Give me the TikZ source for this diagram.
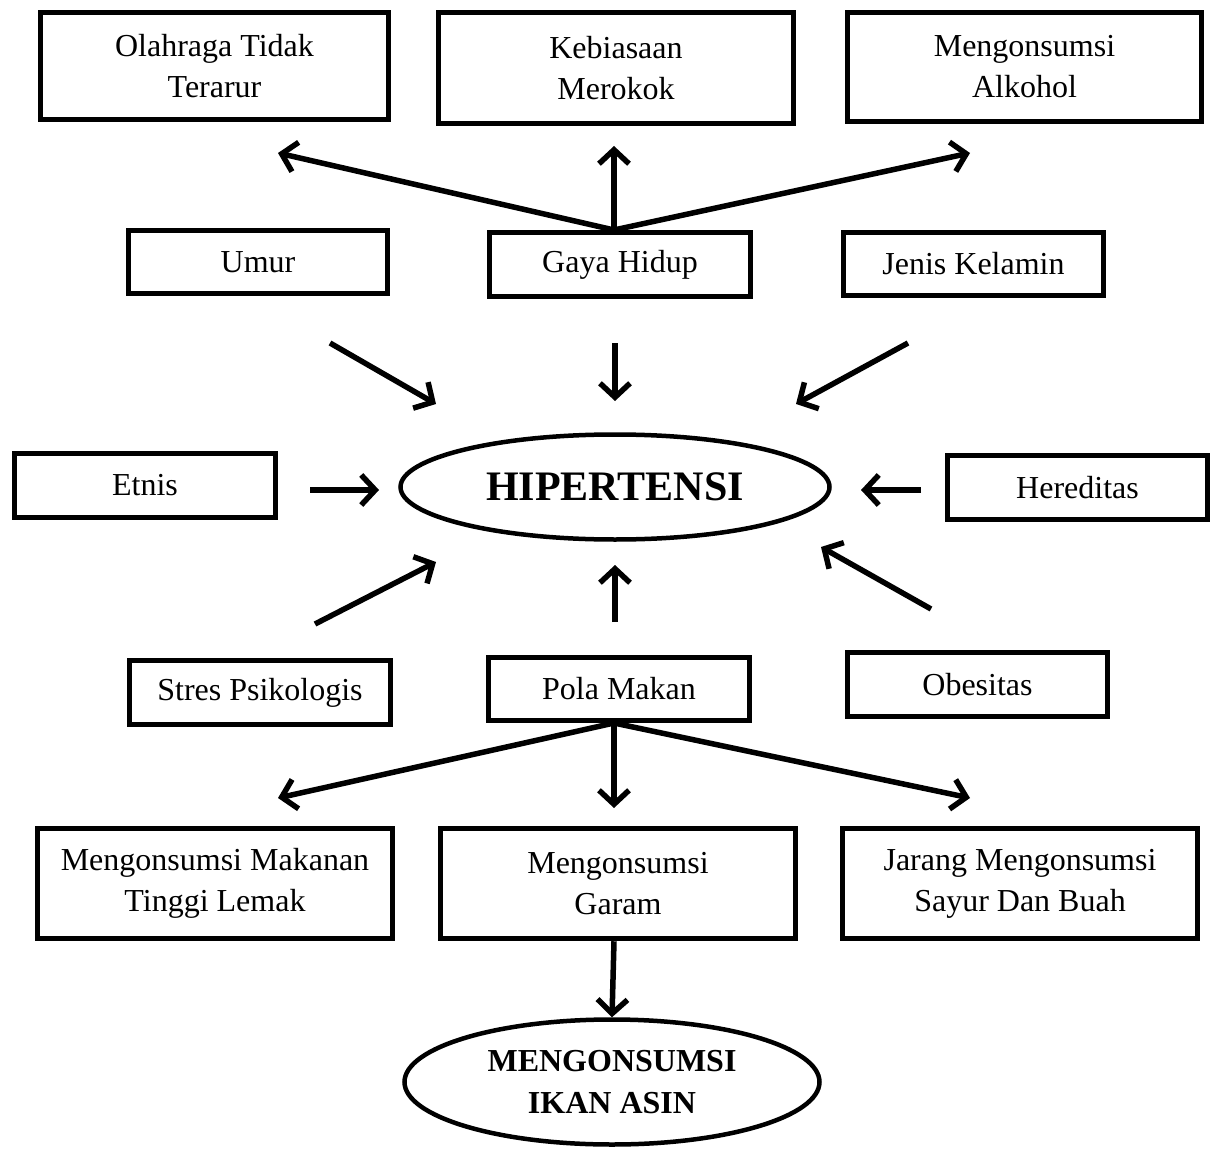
\documentclass[tikz,border=0pt]{standalone}
\usepackage{fontspec}
\setmainfont{Liberation Serif}
\usetikzlibrary{arrows.meta,shapes.geometric}
\begin{document}
\begin{tikzpicture}[x=1pt,y=-1pt,
  box/.style={draw,line width=5.5pt,rectangle,inner sep=0pt,align=center,
    font=\fontsize{32}{41}\selectfont},
  sbox/.style={box,line width=5pt},
  oval/.style={draw,line width=4.5pt,ellipse,inner sep=0pt,align=center},
  arr/.style={line width=5.5pt,-{Straight Barb[length=14pt,width=30pt]}}]
\useasboundingbox (0,0) rectangle (1213,1153);
\node[box,minimum width=348pt,minimum height=107pt] (olah) at (214.5,66) {Olahraga Tidak\\Terarur};
\node[box,minimum width=355pt,minimum height=111pt] (kebi) at (616,68) {Kebiasaan\\Merokok};
\node[box,minimum width=354pt,minimum height=109pt] (alko) at (1024.5,67) {Mengonsumsi\\Alkohol};
\node[sbox,minimum width=259pt,minimum height=63pt] (umur) at (258,262) {Umur};
\node[sbox,minimum width=261pt,minimum height=64pt] (gaya) at (620,264.5) {Gaya Hidup};
\node[sbox,minimum width=260pt,minimum height=63pt] (jenis) at (973.5,264) {Jenis Kelamin};
\node[sbox,minimum width=261pt,minimum height=64pt] (etnis) at (145,485.5) {Etnis};
\node[oval,minimum width=429pt,minimum height=105pt,font=\bfseries\fontsize{42}{48}\selectfont] (hiper) at (615,487) {HIPERTENSI};
\node[sbox,minimum width=260pt,minimum height=64pt] (here) at (1077.5,487.5) {Hereditas};
\node[sbox,minimum width=261pt,minimum height=64pt] (stres) at (260,692.5) {Stres Psikologis};
\node[sbox,minimum width=261pt,minimum height=63pt] (pola) at (619,689) {Pola Makan};
\node[sbox,minimum width=260pt,minimum height=64pt] (obes) at (977.5,684.5) {Obesitas};
\node[box,minimum width=355pt,minimum height=110pt] (lemak) at (215,883.5) {Mengonsumsi Makanan\\Tinggi Lemak};
\node[box,minimum width=355pt,minimum height=110pt] (garam) at (618,883.5) {Mengonsumsi\\Garam};
\node[box,minimum width=355pt,minimum height=110pt] (jarang) at (1020,883.5) {Jarang Mengonsumsi\\Sayur Dan Buah};
\node[oval,minimum width=415pt,minimum height=125pt,font=\bfseries\fontsize{32}{42}\selectfont] (ikan) at (612,1082) {MENGONSUMSI\\IKAN ASIN};
% free ends
\coordinate (tOlah) at (278,153);
\coordinate (tKebi) at (614,146);
\coordinate (tAlko) at (970,153);
\coordinate (sUmur) at (330,343);
\coordinate (eUmur) at (436,404);
\coordinate (sGaya) at (615,343);
\coordinate (eGaya) at (615,401);
\coordinate (sJenis) at (908,343);
\coordinate (eJenis) at (796,404);
\coordinate (sEtnis) at (310,490);
\coordinate (eEtnis) at (379,490);
\coordinate (sHere) at (921,490);
\coordinate (eHere) at (861,490);
\coordinate (sStres) at (315,624);
\coordinate (eStres) at (436,562);
\coordinate (sPola) at (615,622);
\coordinate (ePola) at (615,565);
\coordinate (sObes) at (931,609);
\coordinate (eObes) at (821,547);
\coordinate (tLemak) at (278,798);
\coordinate (tGaram) at (614,808);
\coordinate (tJarang) at (970,798);
% connectors
\draw[arr] ([xshift=-6pt]gaya.north) -- (tOlah);
\draw[arr] ([xshift=-6pt]gaya.north) -- (tKebi);
\draw[arr] ([xshift=-6pt]gaya.north) -- (tAlko);
\draw[arr] (sUmur) -- (eUmur);
\draw[arr] (sGaya) -- (eGaya);
\draw[arr] (sJenis) -- (eJenis);
\draw[arr] (sEtnis) -- (eEtnis);
\draw[arr] (sHere) -- (eHere);
\draw[arr] (sStres) -- (eStres);
\draw[arr] (sPola) -- (ePola);
\draw[arr] (sObes) -- (eObes);
\draw[arr] ([xshift=-5pt]pola.south) -- (tLemak);
\draw[arr] ([xshift=-5pt]pola.south) -- (tGaram);
\draw[arr] ([xshift=-5pt]pola.south) -- (tJarang);
\draw[arr] ([xshift=-4pt]garam.south) -- (ikan.north);
\end{tikzpicture}
\end{document}
